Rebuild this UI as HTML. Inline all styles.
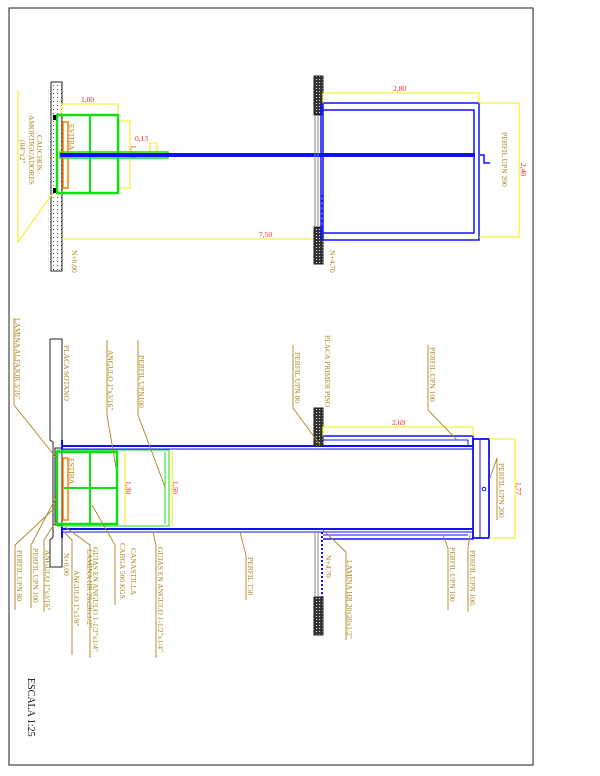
<!DOCTYPE html>
<html><head><meta charset="utf-8"><style>
html,body{margin:0;padding:0;background:#fff;}
svg{display:block;}
text{font-family:"Liberation Serif",serif;}
.g{fill:#a88620;font-size:7.5px;}
.r{fill:#ff2020;font-size:7.5px;}
.ld{stroke:#a88620;stroke-width:0.9;fill:none;}
.y{stroke:#f0f000;stroke-width:1;fill:none;}
.b{stroke:#1010ff;fill:none;}
.gr{stroke:#10e010;fill:none;}
</style></head><body>
<svg width="600" height="776" viewBox="0 0 600 776" xmlns="http://www.w3.org/2000/svg">
<defs>
<pattern id="dots" width="4" height="4" patternUnits="userSpaceOnUse"><rect width="4" height="4" fill="#fff"/><rect x="1" y="1" width="1" height="1" fill="#555"/></pattern>
<pattern id="hatch" width="3" height="3" patternUnits="userSpaceOnUse"><rect width="3" height="3" fill="#333"/><rect x="1" y="1" width="1" height="1" fill="#ddd"/></pattern>
</defs>
<rect x="9" y="8" width="524" height="757" fill="none" stroke="#444" stroke-width="1.2"/>

<!-- ===== TOP DRAWING ===== -->
<rect x="51" y="82" width="11" height="189" fill="url(#dots)" stroke="#222" stroke-width="1"/>
<polyline class="y" points="18,90 18,242 55,190"/>
<text class="g" transform="translate(37,135) rotate(90)">CAUCHOS</text>
<text class="g" transform="translate(29,115) rotate(90)">AMORTIGUADORES</text>
<text class="g" transform="translate(20,140) rotate(90)">(84"x2"</text>
<polyline class="y" points="62,115 62,104 118,104 118,115"/>
<text class="r" x="81" y="102">1,00</text>
<polyline class="y" points="118,121 130,121 130,188 118,188"/>
<text class="r" transform="translate(131,145) rotate(90)">1,30</text>
<polyline class="y" points="150,155 150,143 157,143 157,155"/>
<text class="r" x="135" y="141">0,13</text>
<line class="y" x1="62" y1="239" x2="320" y2="239"/>
<text class="r" x="259" y="237">7,50</text>
<rect class="gr" x="57" y="115" width="61" height="78" stroke-width="2.5"/>
<line class="gr" x1="90" y1="115" x2="90" y2="193" stroke-width="2"/>
<rect class="gr" x="60" y="152" width="108" height="6" stroke-width="1.5"/>
<rect x="63" y="122" width="5" height="66" fill="none" stroke="#ff8000" stroke-width="1.5"/>
<text class="g" transform="translate(69,124) rotate(90)">ESTIBA</text>
<rect x="53" y="115" width="3" height="5" fill="#000"/>
<rect x="53" y="188" width="3" height="5" fill="#000"/>
<rect x="60" y="153" width="415" height="4" fill="#1010ff"/>
<polyline class="b" stroke-width="1.5" points="480,155 484,155 484,163 490,163"/>
<text class="g" transform="translate(72,250) rotate(90)">N+0,00</text>
<rect x="314" y="76" width="9" height="39" fill="url(#hatch)" stroke="#222"/>
<rect x="314" y="227" width="9" height="37" fill="url(#hatch)" stroke="#222"/>
<line x1="315" y1="115" x2="315" y2="227" stroke="#888"/>
<line x1="318" y1="115" x2="318" y2="227" stroke="#888"/>
<rect class="b" x="323" y="103" width="156" height="137" stroke-width="1.5"/>
<polyline class="b" stroke-width="1.5" points="323,110 474,110 474,233 323,233"/>
<line class="b" x1="321" y1="103" x2="321" y2="240" stroke-width="1.5"/>
<line x1="322" y1="195" x2="322" y2="226" stroke="#1010ff" stroke-width="2" stroke-dasharray="2,3"/>
<polyline class="y" points="323,103 323,93 479,93 479,103"/>
<text class="r" x="393" y="91">2,80</text>
<polyline class="y" points="479,103 519,103 519,237 479,237"/>
<text class="r" transform="translate(521,163) rotate(90)">2,40</text>
<text class="g" transform="translate(502,132) rotate(90)">PERFIL UPN 200</text>
<text class="g" transform="translate(330,250) rotate(90)">N+4,70</text>

<!-- ===== BOTTOM DRAWING ===== -->
<polyline fill="none" stroke="#222" stroke-width="1" points="50,339 62,339 62,567 50,567 50,540 53,537 53,442 50,440 50,339"/>
<polyline fill="none" stroke="#222" stroke-width="1" points="62,448 55,448 55,525 62,525"/>
<line class="b" x1="62" y1="446" x2="474" y2="446" stroke-width="2"/>
<line class="b" x1="62" y1="449" x2="474" y2="449" stroke-width="1"/>
<line class="b" x1="62" y1="529" x2="474" y2="529" stroke-width="2"/>
<line class="b" x1="62" y1="532" x2="474" y2="532" stroke-width="1"/>
<line class="b" x1="62" y1="440" x2="62" y2="452" stroke-width="2"/>
<line class="b" x1="62" y1="527" x2="62" y2="538" stroke-width="2"/>
<rect class="gr" x="57" y="452" width="60" height="72" stroke-width="2.5"/>
<line class="gr" x1="90" y1="452" x2="90" y2="524" stroke-width="2"/>
<line class="gr" x1="62" y1="488" x2="117" y2="488" stroke-width="2"/>
<rect class="gr" x="57" y="450" width="112" height="76" stroke-width="1"/>
<line class="gr" x1="165" y1="452" x2="165" y2="524" stroke-width="1"/>
<rect x="63" y="458" width="5" height="62" fill="none" stroke="#ff8000" stroke-width="1.5"/>
<text class="g" transform="translate(69,458) rotate(90)">ESTIBA</text>
<line class="y" x1="125" y1="452" x2="125" y2="524"/>
<text class="r" transform="translate(126,481) rotate(90)">1,30</text>
<line class="y" x1="172" y1="450" x2="172" y2="526"/>
<text class="r" transform="translate(173,481) rotate(90)">1,50</text>
<rect x="314" y="408" width="9" height="38" fill="url(#hatch)" stroke="#222"/>
<rect x="314" y="597" width="9" height="38" fill="url(#hatch)" stroke="#222"/>
<line x1="315" y1="532" x2="315" y2="597" stroke="#888"/>
<line x1="318" y1="532" x2="318" y2="597" stroke="#888"/>
<line x1="322" y1="532" x2="322" y2="597" stroke="#1010ff" stroke-width="2" stroke-dasharray="2,2"/>
<polyline class="b" stroke-width="1.5" points="323,436 473,436 473,446"/>
<polyline class="b" stroke-width="1" points="323,440 468,440 468,446"/>
<polyline class="b" stroke-width="1.5" points="323,539 473,539 473,532"/>
<polyline class="b" stroke-width="1" points="323,535 468,535"/>
<rect class="b" x="473" y="439" width="16" height="99" stroke-width="1.8"/>
<line class="b" x1="480" y1="439" x2="480" y2="538" stroke-width="1"/>
<circle cx="484" cy="489" r="1.8" class="b" stroke-width="1"/>
<polyline class="y" points="323,436 323,427 473,427 473,436"/>
<text class="r" x="392" y="425">2,69</text>
<polyline class="y" points="489,439 515,439 515,538 489,538"/>
<text class="r" transform="translate(516,482) rotate(90)">1,77</text>
<text class="g" transform="translate(326,555) rotate(90)">N+4,70</text>
<polyline class="ld" points="14,318 14,405 58,460"/>
<text class="g" transform="translate(15,318) rotate(90)">LAMINA ALFAJOR 3/16"</text>
<text class="g" transform="translate(64,345) rotate(90)">PLACA SOTANO</text>
<polyline class="ld" points="107,340 107,415 116,468"/>
<text class="g" transform="translate(108,350) rotate(90)">ANGULO 1"x3/16"</text>
<polyline class="ld" points="138,340 138,415 165,487"/>
<text class="g" transform="translate(139,355) rotate(90)">PERFIL UPN100</text>
<polyline class="ld" points="293,345 293,408 320,445"/>
<text class="g" transform="translate(295,352) rotate(90)">PERFIL UPN 80</text>
<text class="g" transform="translate(325,335) rotate(90)">PLACA PRIMER PISO</text>
<polyline class="ld" points="428,345 428,410 457,440"/>
<text class="g" transform="translate(430,347) rotate(90)">PERFIL UPN 100</text>
<polyline class="ld" points="490,478 497,458 497,520"/>
<text class="g" transform="translate(499,463) rotate(90)">PERFIL UPN 200</text>
<polyline class="ld" points="323,530 346,552 346,640"/>
<text class="g" transform="translate(347,560) rotate(90)">LAMINA HR 20x20x1/2"</text>
<polyline class="ld" points="443,535 448,548 448,610"/>
<text class="g" transform="translate(450,547) rotate(90)">PERFIL UPN 100</text>
<polyline class="ld" points="470,535 468,548 468,612"/>
<text class="g" transform="translate(470,550) rotate(90)">PERFIL UPN 100.</text>
<polyline class="ld" points="15,610 15,545 58,505"/>
<text class="g" transform="translate(17,550) rotate(90)">PERFIL UPN 80</text>
<polyline class="ld" points="31,608 31,545 58,494"/>
<text class="g" transform="translate(33,548) rotate(90)">PERFIL UPN 100</text>
<polyline class="ld" points="44,612 44,540 57,520"/>
<text class="g" transform="translate(45,550) rotate(90)">ANGULO 1"x3/16"</text>
<text class="g" transform="translate(64,553) rotate(90)">N+0,00</text>
<polyline class="ld" points="72,655 72,540 65,533"/>
<text class="g" transform="translate(74,570) rotate(90)">ANGULO 1"x1/8"</text>
<polyline class="ld" points="90,658 90,545 65,527"/>
<text class="g" transform="translate(93,547) rotate(90)">GUIAS EN ANGULO 1-1/2"x1/4"</text>
<text class="g" transform="translate(87,549) rotate(90)">LAMINA HR 20x20x1/2"</text>
<polyline class="ld" points="115,605 115,545 92,505"/>
<text class="g" transform="translate(131,548) rotate(90)">CANASTILLA</text>
<text class="g" transform="translate(120,543) rotate(90)">CARGA 500 KGS.</text>
<polyline class="ld" points="156,658 156,545 153,532"/>
<text class="g" transform="translate(158,547) rotate(90)">GUIAS EN ANGULO 1-1/2"x1/4"</text>
<polyline class="ld" points="246,600 246,555 240,532"/>
<text class="g" transform="translate(248,557) rotate(90)">PERFIL T50</text>
<text transform="translate(28,678) rotate(90)" style="font-size:10px;fill:#111;font-family:'Liberation Serif',serif">ESCALA 1:25</text>
</svg>
</body></html>
